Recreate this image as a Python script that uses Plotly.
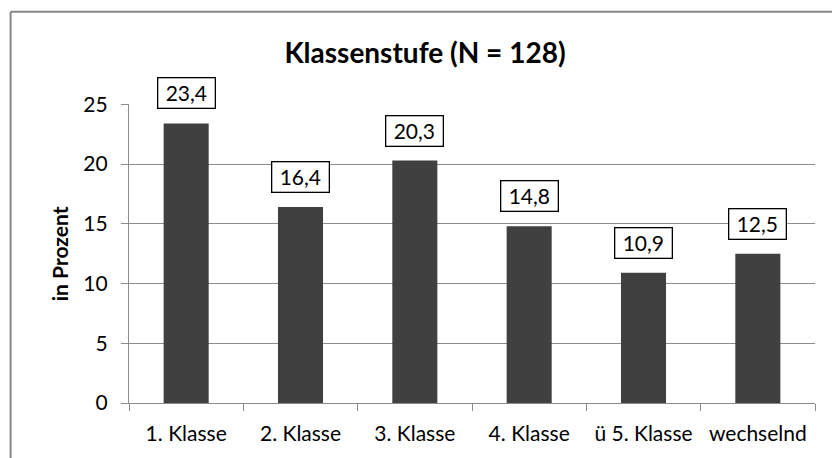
import plotly.graph_objects as go

categories = ["1. Klasse", "2. Klasse", "3. Klasse", "4. Klasse", "ü 5. Klasse", "wechselnd"]
values = [23.4, 16.4, 20.3, 14.8, 10.9, 12.5]
y_ticks = [0, 5, 10, 15, 20, 25]
title_text = "Klassenstufe (N = 128)"
y_title = "in Prozent"

FONT = "Lato, 'Open Sans', sans-serif"
GRID = "#8c8c8c"
W, H = 832, 458

fig = go.Figure()
fig.add_trace(go.Bar(
    x=categories, y=values,
    marker=dict(color="#404040", line=dict(width=0)),
    width=0.394,
    hoverinfo="skip",
))

annotations = []
for c, v in zip(categories, values):
    annotations.append(dict(
        x=c, y=v, xref="x", yref="y",
        text=f"{v:.1f}".replace(".", ","),
        showarrow=False, yanchor="bottom", xanchor="center",
        yshift=14,
        font=dict(family=FONT, size=21, color="#000"),
        bgcolor="white", bordercolor="#000", borderwidth=1.3, borderpad=2,
        width=52, height=25,
    ))
annotations.append(dict(
    x=-0.101, y=0.5, xref="paper", yref="paper",
    text=f"<b>{y_title}</b>", textangle=-90, showarrow=False,
    xanchor="center", yanchor="middle",
    font=dict(family=FONT, size=21, color="#000"),
))

border = dict(color="#878787", width=2)
fig.update_layout(
    width=W, height=H,
    margin=dict(l=128.5, r=17, t=103.5, b=55),
    paper_bgcolor="white", plot_bgcolor="white",
    showlegend=False,
    bargap=0.6,
    title=dict(text=f"<b>{title_text}</b>", x=425 / W, xanchor="center",
               y=1 - 53 / H, yanchor="middle",
               font=dict(family=FONT, size=28, color="#000")),
    annotations=annotations,
    shapes=[
        dict(type="line", xref="paper", yref="paper",
             x0=-0.1726, x1=1.2, y0=1.3087, y1=1.3087, line=border, layer="below"),
        dict(type="line", xref="paper", yref="paper",
             x0=-0.1726, x1=-0.1726, y0=-0.4, y1=1.3087, line=border, layer="below"),
    ],
    font=dict(family=FONT, size=20, color="#000"),
)
fig.update_xaxes(
    type="category", showline=True, linecolor=GRID, linewidth=1.3,
    ticks="outside", tickson="boundaries", ticklen=7, tickcolor=GRID, tickwidth=1.3,
    tickfont=dict(family=FONT, size=21, color="#000"),
    ticklabelstandoff=12,
    showgrid=False, fixedrange=True,
)
fig.update_yaxes(
    range=[0, 25.03], tickvals=y_ticks, ticktext=[str(t) for t in y_ticks],
    showline=True, linecolor=GRID, linewidth=1.3,
    ticks="outside", ticklen=7, tickcolor=GRID, tickwidth=1.3,
    showgrid=True, gridcolor=GRID, gridwidth=1.3,
    zeroline=False,
    tickfont=dict(family=FONT, size=21, color="#000"),
    ticklabelstandoff=9,
    fixedrange=True,
)

fig.write_html(
    "out.html",
    config={"displayModeBar": False},
    post_script="document.body.style.margin='0';document.body.style.overflow='hidden';",
)
